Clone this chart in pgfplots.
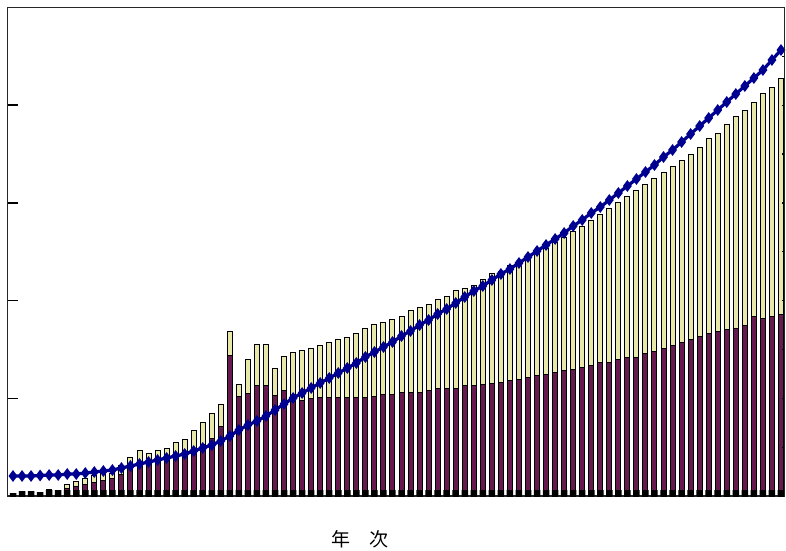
\documentclass[border=0pt]{standalone}
\usepackage{fontspec}
\newfontfamily\cjk{Noto Sans CJK JP}
\usepackage{pgfplots}
\usepackage{pgfplotstable}
\pgfplotsset{compat=1.18}
\definecolor{barpurple}{HTML}{661A50}
\definecolor{baryellow}{HTML}{E8E8AA}
\definecolor{linenavy}{HTML}{000090}

\pgfplotstableread{
i total purple foot line
0 3 3 3 20
1 5 5 5 20
2 5 5 5 20
3 4 4 4 20.5
4 7 7 6 21
5 6 6 6 21
6 12 8 6 22
7 15 10 6 22
8 18 12 6 23
9 21 14 6 24
10 23 16 6 25
11 23 18 6 26
12 31 22 6 28
13 39 28 6 30
14 46 34 6 32
15 43 36 6 34
16 46 36 6 36
17 48 40 6 38
18 54 43 6 40
19 57 45 6 42
20 66 46 6 45
21 74 52 6 48
22 83 58 6 51
23 92 70 6 55
24 165 141 6 60
25 112 100 6 66
26 137 103 6 71
27 152 111 6 75
28 152 111 6 80
29 128 101 6 86
30 140 106 6 92
31 144 100 6 98
32 146 96 6 103
33 148 98 6 108
34 151 99 6 113
35 154 99 6 118
36 157 99 6 123
37 159 99 6 128
38 163 99 6 133
39 168 99 6 139
40 172 100 6 144
41 174 102 6 149
42 177 102 6 154
43 180 104 6 160
44 186 104 6 165
45 189 104 6 171
46 192 106 6 176
47 197 108 6 182
48 200 108 6 187
49 206 108 6 193
50 208 111 6 199
51 211 111 6 205
52 217 112 6 210
53 223 113 6 216
54 225 114 6 222
55 231 116 6 227
56 233 117 6 233
57 238 119 6 239
58 243 121 6 245
59 248 122 6 251
60 254 124 6 257
61 259 126 6 263
62 265 127 6 270
63 270 129 6 276
64 276 131 6 283
65 282 134 6 289
66 288 134 6 296
67 294 137 6 303
68 300 139 6 310
69 306 139 6 317
70 312 143 6 324
71 318 145 6 331
72 324 148 6 339
73 330 151 6 346
74 336 154 6 354
75 342 157 6 362
76 349 160 6 370
77 358 163 6 378
78 363 165 6 386
79 372 167 6 394
80 380 168 6 402
81 386 171 6 410
82 394 180 6 418
83 403 178 6 426
84 409 180 6 436
85 418 182 6 446
}\data

\begin{document}
\begin{tikzpicture}
\path[use as bounding box] (-7.5pt,-54pt) rectangle (778.5pt,496pt);
\begin{axis}[
  at={(0pt,0pt)}, anchor=south west, scale only axis,
  width=777pt, height=488.5pt,
  xmin=-0.61, xmax=85.39, ymin=0, ymax=488.5,
  xtick=\empty,
  ytick={97.7,195.4,293.1,390.8}, yticklabels={}, ytick pos=left,
  tick align=inside, major tick length=10pt,
  axis line style={line width=1.8pt, black!85},
  every tick/.style={black, line width=1.5pt},
]
\addplot[ybar, bar width=5pt, bar shift=0pt, fill=baryellow, draw=black, line width=1pt] table[x=i,y=total]{\data};
\addplot[ybar, bar width=5pt, bar shift=0pt, fill=barpurple, draw=black, line width=1pt] table[x=i,y=purple]{\data};
\addplot[ybar, bar width=6.5pt, bar shift=0pt, fill=black, draw=none] table[x=i,y=foot]{\data};
\addplot[linenavy, line width=3.2pt, mark=diamond*, mark size=3.3pt, mark options={solid}] table[x=i,y=line]{\data};
\end{axis}
\begin{axis}[
  at={(0pt,0pt)}, anchor=south west, scale only axis,
  width=777pt, height=488.5pt,
  xmin=0, xmax=1, ymin=0, ymax=488.5,
  hide x axis, axis y line*=right,
  ytick={48.85,97.7,146.55,195.4,244.25,293.1,341.95,390.8,439.65}, yticklabels={},
  tick align=inside, major tick length=3pt,
  axis line style={line width=1.8pt, black!85},
  every tick/.style={black, line width=1.2pt},
]
\addplot[draw=none] coordinates {(0,0)};
\end{axis}
\node[font=\cjk\fontsize{19}{19}\selectfont, inner sep=0pt] at (352.5pt,-43pt) {年　次};
\end{tikzpicture}
\end{document}
